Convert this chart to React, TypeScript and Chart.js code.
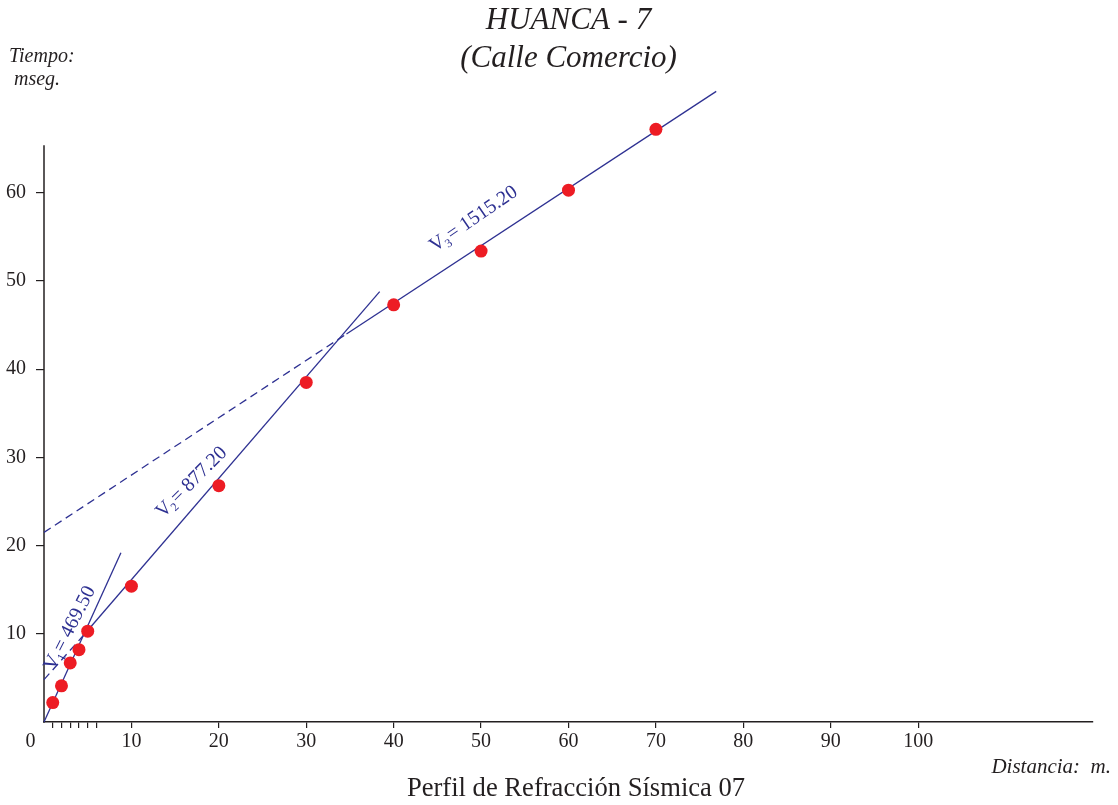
import React, { useEffect, useRef } from 'react';
import { Chart, registerables } from 'chart.js';

Chart.register(...registerables);

// ---- data ----
const distances = [1, 2, 3, 4, 5, 10, 20, 30, 40, 50, 60, 70];
const times = [2.2, 4.1, 6.7, 8.2, 10.3, 15.4, 26.8, 38.5, 47.3, 53.4, 60.3, 67.2];

// fitted velocity segments (end points)
const v1X = [0, 8.8];
const v1Y = [0, 19.2];
const v2DashX = [0, 4.4];
const v2DashY = [4.8, 9.7];
const v2X = [4.4, 38.4];
const v2Y = [9.7, 48.8];
const v3DashX = [0, 34.6];
const v3DashY = [21.5, 44.0];
const v3X = [34.6, 76.9];
const v3Y = [44.0, 71.5];

// axes
const xTickValues = [1, 2, 3, 4, 5, 6, 10, 20, 30, 40, 50, 60, 70, 80, 90, 100];
const xLabeledTicks = [10, 20, 30, 40, 50, 60, 70, 80, 90, 100];
const yTickValues = [10, 20, 30, 40, 50, 60];
const yAxisEnd = 65.4;

// texts
const titleLines = ['HUANCA - 7', '(Calle Comercio)'];
const bottomTitle = 'Perfil de Refracción Sísmica 07';
const yCaption = ['Tiempo:', ' mseg.'];
const xCaption = 'Distancia:  m.';
const velocityNames = ['V', 'V', 'V'];
const velocitySubs = ['1', '2', '3'];
const velocityValues = ['= 469.50', '= 877.20', '= 1515.20'];

// label placement (data coords on the line, angle, offset)
const labelAnchors = [
  { x: 2.35, y: 5.1, angle: 63, offset: 12 },
  { x: 14.9, y: 21.8, angle: 45, offset: 16 },
  { x: 46.0, y: 51.4, angle: 34.5, offset: 20 },
];

const SERIF = "'Liberation Serif', 'Times New Roman', serif";
const INK = '#231F20';
const BLUE = '#2E3192';
const RED = '#ED1C24';

const pairs = (xs: number[], ys: number[]) => xs.map((x, i) => ({ x, y: ys[i] }));

const overlayPlugin = {
  id: 'overlay',
  beforeDatasetsDraw(chart: any) {
    const { ctx, chartArea, scales } = chart;
    const y = scales.y;
    ctx.save();
    ctx.strokeStyle = INK;
    ctx.lineWidth = 1.5;
    ctx.beginPath();
    ctx.moveTo(chartArea.left, y.getPixelForValue(0) + 0.75);
    ctx.lineTo(chartArea.left, y.getPixelForValue(yAxisEnd));
    ctx.stroke();
    ctx.restore();
  },
  afterDraw(chart: any) {
    const { ctx, chartArea, scales } = chart;
    const xs = scales.x;
    const ys = scales.y;
    ctx.save();
    ctx.fillStyle = INK;
    // y caption
    ctx.font = `italic 20px ${SERIF}`;
    ctx.textAlign = 'left';
    ctx.textBaseline = 'alphabetic';
    ctx.fillText(yCaption[0], 9, 62);
    ctx.fillText(yCaption[1], 9, 85);
    // x caption
    ctx.font = `italic 21px ${SERIF}`;
    ctx.textAlign = 'right';
    ctx.fillText(xCaption, 1111, 773);
    // origin label
    ctx.font = `20px ${SERIF}`;
    ctx.textAlign = 'center';
    ctx.fillText('0', chartArea.left - 13.5, 747);
    // bottom title
    ctx.font = `26.6px ${SERIF}`;
    ctx.fillText(bottomTitle, 576, 796);

    // velocity labels
    ctx.fillStyle = BLUE;
    labelAnchors.forEach((a, i) => {
      const px = xs.getPixelForValue(a.x);
      const py = ys.getPixelForValue(a.y);
      ctx.save();
      ctx.translate(px, py);
      ctx.rotate((-a.angle * Math.PI) / 180);
      ctx.textAlign = 'left';
      ctx.textBaseline = 'alphabetic';
      let cx = 0;
      const by = -a.offset;
      ctx.font = `20px ${SERIF}`;
      ctx.fillText(velocityNames[i], cx, by);
      cx += ctx.measureText(velocityNames[i]).width;
      ctx.font = `12px ${SERIF}`;
      ctx.fillText(velocitySubs[i], cx - 1, by + 4);
      cx += ctx.measureText(velocitySubs[i]).width;
      ctx.font = `20px ${SERIF}`;
      ctx.fillText(velocityValues[i], cx, by);
      ctx.restore();
    });
    ctx.restore();
  },
};

export default function App() {
  const ref = useRef<HTMLCanvasElement>(null);

  useEffect(() => {
    if (!ref.current) return;
    const lineDs = (xs: number[], ys: number[], dashed: boolean) => ({
      data: pairs(xs, ys),
      showLine: true,
      borderColor: BLUE,
      borderWidth: 1.3,
      borderDash: dashed ? [8, 5] : [],
      pointRadius: 0,
      fill: false,
      clip: false as any,
    });
    const chart = new Chart(ref.current, {
      type: 'scatter',
      data: {
        datasets: [
          {
            data: pairs(distances, times),
            pointRadius: 6.5,
            pointBackgroundColor: RED,
            pointBorderWidth: 0,
            borderColor: RED,
            showLine: false,
            clip: false as any,
          },
          lineDs(v1X, v1Y, false),
          lineDs(v2DashX, v2DashY, true),
          lineDs(v2X, v2Y, false),
          lineDs(v3DashX, v3DashY, true),
          lineDs(v3X, v3Y, false),
        ] as any,
      },
      options: {
        responsive: false,
        animation: false,
        layout: { padding: { left: 0, right: 25, top: 0, bottom: 0 } },
        plugins: {
          legend: { display: false },
          tooltip: { enabled: false },
          title: {
            display: true,
            fullSize: false,
            text: titleLines,
            color: INK,
            font: { family: SERIF, size: 31, style: 'italic', weight: 'normal', lineHeight: 1.25 },
            padding: { top: 1, bottom: 8.5 },
          },
        },
        scales: {
          x: {
            type: 'linear',
            min: 0,
            max: 120,
            afterBuildTicks: (s: any) => {
              s.ticks = xTickValues.map((v) => ({ value: v }));
            },
            afterFit: (s: any) => {
              s.height = 83;
            },
            grid: {
              display: true,
              drawOnChartArea: false,
              drawTicks: true,
              tickLength: 6,
              color: INK,
              lineWidth: 1.2,
            },
            border: { display: true, color: INK, width: 1.5 },
            ticks: {
              autoSkip: false,
              maxRotation: 0,
              padding: 2,
              color: INK,
              font: { family: SERIF, size: 20 },
              callback: (v: any) => (xLabeledTicks.includes(Number(v)) ? String(v) : ''),
            },
          },
          y: {
            type: 'linear',
            min: 0,
            max: 72,
            afterBuildTicks: (s: any) => {
              s.ticks = yTickValues.map((v) => ({ value: v }));
            },
            afterFit: (s: any) => {
              s.width = 44;
            },
            grid: {
              display: true,
              drawOnChartArea: false,
              drawTicks: true,
              tickLength: 8,
              color: INK,
              lineWidth: 1.2,
            },
            border: { display: false },
            ticks: {
              autoSkip: false,
              padding: 10,
              color: INK,
              font: { family: SERIF, size: 20 },
              callback: (v: any) => String(v),
            },
          },
        },
      },
      plugins: [overlayPlugin],
    });
    return () => chart.destroy();
  }, []);

  return (
    <div style={{ position: 'fixed', left: 0, top: 0, width: 1118, height: 805, background: '#fff' }}>
      <canvas ref={ref} width={1118} height={805} style={{ display: 'block' }} />
    </div>
  );
}
